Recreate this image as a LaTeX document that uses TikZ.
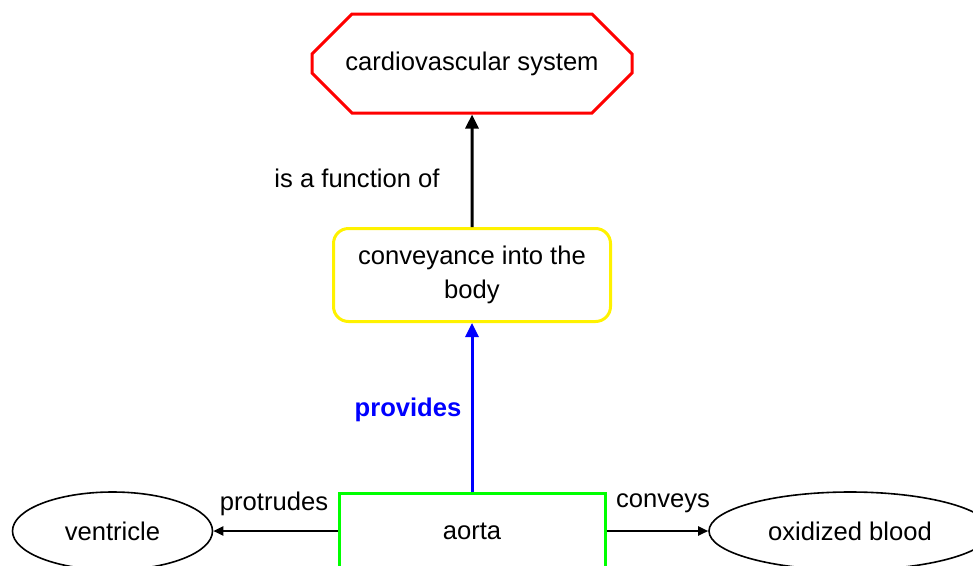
\documentclass[tikz,border=0pt]{standalone}
\usepackage{fontspec}
\setmainfont{Liberation Sans}
\usetikzlibrary{shapes.misc,shapes.geometric,arrows.meta}
\begin{document}
\begin{tikzpicture}[x=1pt,y=-1pt,
  every node/.style={font=\fontsize{25.6}{34}\selectfont},
  octo/.style={draw=red, line width=3pt, chamfered rectangle,
    chamfered rectangle xsep=28pt, chamfered rectangle ysep=28pt,
    minimum width=320pt, minimum height=99pt, inner sep=0pt},
  roundbox/.style={draw=yellow, line width=3pt, rounded corners=15pt,
    minimum width=277pt, minimum height=93pt, align=center, inner sep=0pt},
  greenbox/.style={draw=green, line width=3pt, minimum width=266pt,
    minimum height=76pt, inner sep=0pt},
  oval/.style={draw=black, line width=1.6pt, ellipse, inner sep=0pt},
  lbl/.style={inner sep=0pt},
  bigarrow/.style={line width=3pt, -{Triangle[length=14pt,width=13pt]}},
  smallarrow/.style={line width=2pt, -{Triangle[length=10pt,width=9pt]}}
]
\useasboundingbox (0,0) rectangle (973,565);
\clip (0,0) rectangle (973,565);
\node[octo] (cvs) at (472,63.5) {cardiovascular system};
\node[roundbox] (conv) at (472,275) {\rule{0pt}{6pt}conveyance into the\\body};
\node[greenbox] (aorta) at (472,531.5) {aorta};
\node[oval, minimum width=200pt, minimum height=78pt] (vent) at (112.5,531) {ventricle};
\node[oval, minimum width=282pt, minimum height=78pt] (blood) at (850,531) {oxidized blood};
\draw[bigarrow] (conv) -- (cvs);
\draw[bigarrow, blue] (aorta) -- (conv);
\draw[smallarrow] (aorta.west |- vent.east) -- (vent.east);
\draw[smallarrow] (aorta.east |- blood.west) -- (blood.west);
\node[lbl] (l1) at (357,178) {is a function of};
\node[lbl, text=blue, font=\fontsize{25.6}{34}\selectfont\bfseries] (l2) at (408,410) {provides};
\node[lbl] (l3) at (274,504) {protrudes};
\node[lbl] (l4) at (663,503) {conveys};
\end{tikzpicture}
\end{document}
